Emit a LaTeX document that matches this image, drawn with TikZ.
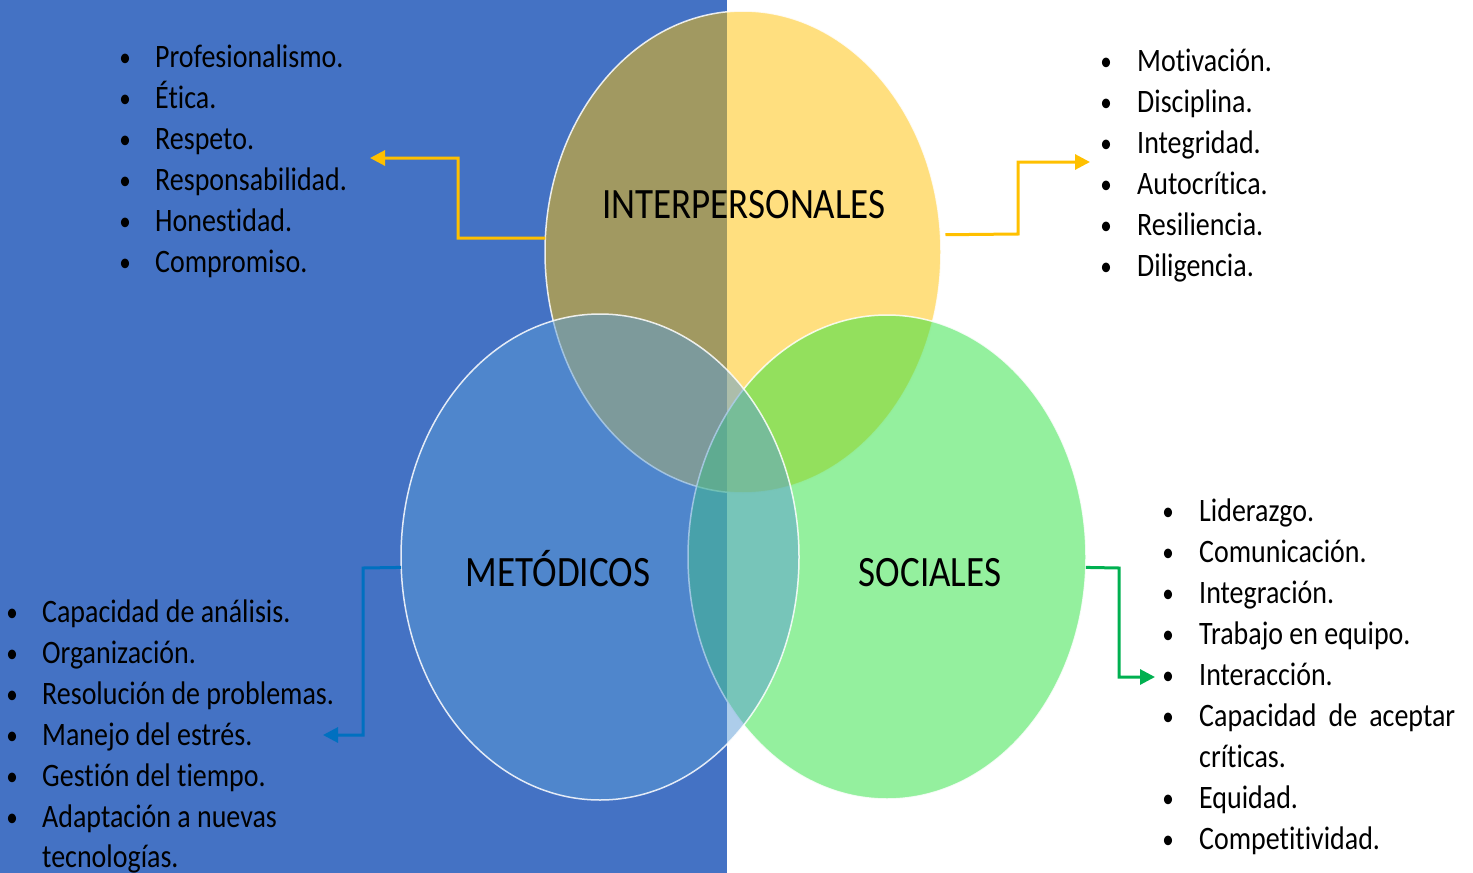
\documentclass[tikz,border=0pt]{standalone}
\usepackage{fontspec}
\setmainfont{Carlito}[FakeStretch=0.855, RawFeature={-liga;-dlig;-clig}]
\usetikzlibrary{shapes.geometric,arrows.meta}
\definecolor{bgblue}{HTML}{4472C4}
\definecolor{cyel}{HTML}{FFC000}
\definecolor{cgreen}{RGB}{41,225,61}
\definecolor{cblue}{HTML}{5B9BD5}
\definecolor{lblue}{HTML}{0070C0}
\definecolor{lgreen}{HTML}{00B050}
\tikzset{
  venn/.style={ellipse, inner sep=0pt, outer sep=0pt, minimum width=396pt, minimum height=482pt,
     fill opacity=0.5, draw=white, draw opacity=0.85, line width=1.5pt},
  bigl/.style={inner sep=0pt, anchor=base, font=\fontsize{43.3}{50}\selectfont},
  item/.style={inner sep=0pt, anchor=base west, font=\fontsize{32.7}{40}\selectfont},
  bul/.style={inner sep=0pt, anchor=base, font=\fontsize{27}{32}\selectfont},
  conn/.style={line width=3pt, -{Triangle[length=15pt,width=15pt]}},
}
\begin{document}
\begin{tikzpicture}[x=1pt,y=-1pt]
\useasboundingbox (0,0) rectangle (1473,873);
\fill[bgblue] (0,0) rectangle (727,873);

\node[venn, fill=cyel] (inter) at (743,252) {};
\node[venn, fill=cgreen, minimum width=398pt, minimum height=484pt] (soc) at (887,557) {};
\node[venn, fill=cblue, minimum width=398pt, minimum height=486pt] (meto) at (600,557) {};

\node[bigl] (linter) at (744,218) {INTERPERSONALES};
\node[bigl] (lmeto) at (558,586) {METÓDICOS};
\node[bigl] (lsoc) at (930,586) {SOCIALES};

% connectors
\coordinate (endA) at (370,158);
\coordinate (endB) at (1090,162);
\coordinate (endC) at (323,735);
\coordinate (endD) at (1155,677);
\draw[conn, cyel] (inter.176) -- (458,238) |- (endA);
\draw[conn, cyel] (inter.5) ++(5,0) coordinate (startB) -- (1018,234) |- (endB);
\draw[conn, lblue] (meto.183) -- (363,568) |- (endC);
\draw[conn, lgreen] (soc.357) -- (1119,568) |- (endD);

% top-left list
\foreach \t [count=\i from 0] in {Profesionalismo., Ética., Respeto., Responsabilidad., Honestidad., Compromiso.} {
  \node[bul] (ba\i) at (125,66+41*\i) {•};
  \node[item] (ta\i) at (155,67+41*\i) {\t};
}
% top-right list
\foreach \t [count=\i from 0] in {Motivación., Disciplina., Integridad., Autocrítica., Resiliencia., Diligencia.} {
  \node[bul] (bb\i) at (1106,70+41*\i) {•};
  \node[item] (tb\i) at (1137,71+41*\i) {\t};
}
% bottom-left list
\foreach \t [count=\i from 0] in {Capacidad de análisis., Organización., Resolución de problemas., Manejo del estrés., Gestión del tiempo., Adaptación a nuevas} {
  \node[bul] (bc\i) at (12,621+41*\i) {•};
  \node[item] (tc\i) at (42,622+41*\i) {\t};
}
\node[item] (tc6) at (42,867) {tecnologías.};
% bottom-right list
\foreach \t [count=\i from 0] in {Liderazgo., Comunicación., Integración., Trabajo en equipo., Interacción.} {
  \node[bul] (bd\i) at (1168,520+41*\i) {•};
  \node[item] (td\i) at (1199,521+41*\i) {\t};
}
\node[bul] (bd5) at (1168,725) {•};
\node[item] (td5) at (1199,726) {\hbox to 256pt{Capacidad\hfil de\hfil aceptar}};
\node[item] (td6) at (1199,767) {críticas.};
\node[bul] (bd7) at (1168,807) {•};
\node[item] (td7) at (1199,808) {Equidad.};
\node[bul] (bd8) at (1168,848) {•};
\node[item] (td8) at (1199,849) {Competitividad.};
\end{tikzpicture}
\end{document}
